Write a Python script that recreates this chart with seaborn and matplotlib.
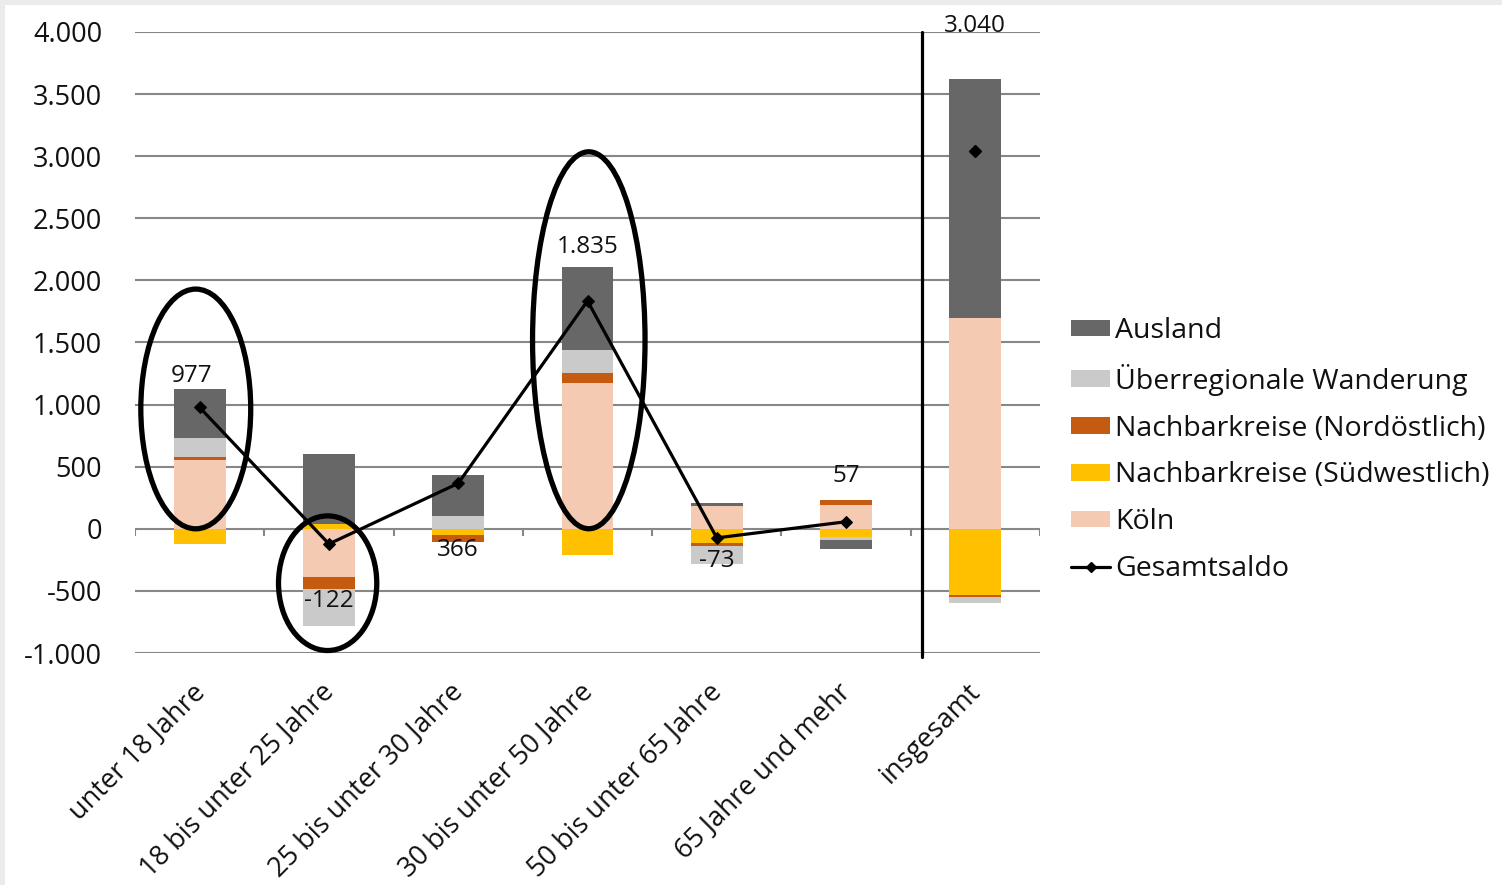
import numpy as np
import pandas as pd
import matplotlib
matplotlib.use("Agg")
import matplotlib.pyplot as plt
import matplotlib.transforms as mtransforms
import seaborn as sns
from matplotlib.patches import Ellipse, Patch, Rectangle
from matplotlib.lines import Line2D

# Wanderungssaldo nach Altersgruppen und Herkunft/Ziel
categories = ["unter 18 Jahre", "18 bis unter 25 Jahre", "25 bis unter 30 Jahre",
              "30 bis unter 50 Jahre", "50 bis unter 65 Jahre", "65 Jahre und mehr",
              "insgesamt"]
koeln = [554, -385, 0, 1172, 185, 193, 1694]
suedwest = [-120, 40, -48, -209, -112, -62, -530]
nordost = [25, -96, -56, 80, -25, 40, -20]
ueberregional = [150, -305, 100, 185, -150, -25, -48]
ausland = [394, 562, 330, 667, 25, -72, 1927]
gesamtsaldo = [977, -122, 366, 1835, -73, 57, 3040]

# stacking order, from the zero line outwards
stack_names = ["Köln", "Nachbarkreise (Südwestlich)", "Nachbarkreise (Nordöstlich)",
               "Überregionale Wanderung", "Ausland"]
stack_values = [koeln, suedwest, nordost, ueberregional, ausland]
colors = {
    "Ausland": "#676767",
    "Überregionale Wanderung": "#cacaca",
    "Nachbarkreise (Nordöstlich)": "#c55a11",
    "Nachbarkreise (Südwestlich)": "#ffc000",
    "Köln": "#f4cbb2",
}
legend_order = ["Ausland", "Überregionale Wanderung", "Nachbarkreise (Nordöstlich)",
                "Nachbarkreise (Südwestlich)", "Köln"]

sns.set_theme(style="white")
plt.rcParams["font.family"] = ["Open Sans", "DejaVu Sans"]

W, H = 1502, 885
fig = plt.figure(figsize=(W / 100, H / 100), dpi=100, facecolor="#ebebeb")
fig.patches.append(Rectangle((5 / W, 0), 1, 1 - 5 / H, transform=fig.transFigure,
                             facecolor="white", edgecolor="none", zorder=-10))
ax = fig.add_axes([135 / W, 1 - 653 / H, (1040 - 135) / W, (653 - 32) / H])
ax.set_facecolor("none")

n = len(categories)
pos_bottom = np.zeros(n)
neg_bottom = np.zeros(n)
for name, vals in zip(stack_names, stack_values):
    v = np.asarray(vals, dtype=float)
    bottom = np.where(v >= 0, pos_bottom, neg_bottom)
    df = pd.DataFrame({"Altersgruppe": categories, "Saldo": v})
    sns.barplot(data=df, x="Altersgruppe", y="Saldo", order=categories,
                color=colors[name], saturation=1, errorbar=None, width=0.4,
                bottom=bottom, linewidth=0, zorder=2, ax=ax)
    pos_bottom += np.where(v > 0, v, 0)
    neg_bottom += np.where(v < 0, v, 0)

# Gesamtsaldo: connected for the age groups, single marker for the total
sns.lineplot(x=np.arange(n - 1), y=gesamtsaldo[:-1], sort=False, color="black",
             linewidth=2.3, marker="D", markersize=6, markeredgecolor="black",
             zorder=4, ax=ax)
ax.plot([n - 1], [gesamtsaldo[-1]], ls="none", marker="D", markersize=6,
        color="black", zorder=4)

def fmt(v):
    return f"{v:,.0f}".replace(",", ".")

# value labels (offsets in points)
label_offsets = [(-6, 23), (0, -41), (0, -48), (0, 39), (0, -17), (0, 33), (0, 90)]
for i, (val, off) in enumerate(zip(gesamtsaldo, label_offsets)):
    ax.annotate(fmt(val), (i, val), xytext=off, textcoords="offset points",
                ha="center", va="center", fontsize=17.5, color="#111111",
                zorder=6, annotation_clip=False)

# highlight rings
rings = [(-0.03, 965, 0.85, 1930), (0.99, -438, 0.76, 1084), (3.01, 1518, 0.87, 3035)]
for cx, cy, w, h in rings:
    ax.add_patch(Ellipse((cx, cy), w, h, fill=False, edgecolor="black",
                         linewidth=3.8, zorder=7, clip_on=False))

# separator before the total
ax.axvline(5.585, ymin=-0.007, ymax=1, color="black", linewidth=2.3,
           zorder=3, clip_on=False)

ax.set_xlim(-0.5, n - 0.5)
ax.set_ylim(-1000, 4000)
yt = np.arange(-1000, 4001, 500)
ax.set_yticks(yt)
ax.set_yticklabels([fmt(t) for t in yt])
ax.yaxis.grid(True, color="#878787", linewidth=1.5)
ax.set_axisbelow(True)
for s in ax.spines.values():
    s.set_visible(False)

# small category separators on the zero line
ax.vlines(np.arange(-0.5, n, 1.0), -56, 0, colors="#878787", linewidth=1.5, zorder=1)

ax.tick_params(axis="y", length=0, pad=33 * 0.72, labelsize=19.5, labelcolor="#111111")
ax.tick_params(axis="x", length=0, pad=18, labelsize=19.5, labelcolor="#111111")
ax.set_xticks(np.arange(n))
ax.set_xticklabels(categories, rotation=45, ha="right", rotation_mode="anchor")
shift = mtransforms.ScaledTranslation(-9 / 100, 0, fig.dpi_scale_trans)
for lab in ax.get_xticklabels():
    lab.set_transform(lab.get_transform() + shift)
ax.set_xlabel("")
ax.set_ylabel("")

handles = [Patch(facecolor=colors[k], edgecolor="none") for k in legend_order]
handles.append(Line2D([], [], color="black", linewidth=2.3, marker="D", markersize=5))
labels = legend_order + ["Gesamtsaldo"]
fig.legend(handles, labels, loc="upper left", bbox_to_anchor=(1071 / W, 1 - 317 / H),
           frameon=False, fontsize=20.5, handlelength=1.38, handleheight=0.52,
           handletextpad=0.16, labelspacing=0.66, borderpad=0, borderaxespad=0,
           labelcolor="#111111")

fig.savefig("out.png", dpi=100, facecolor=fig.get_facecolor())
